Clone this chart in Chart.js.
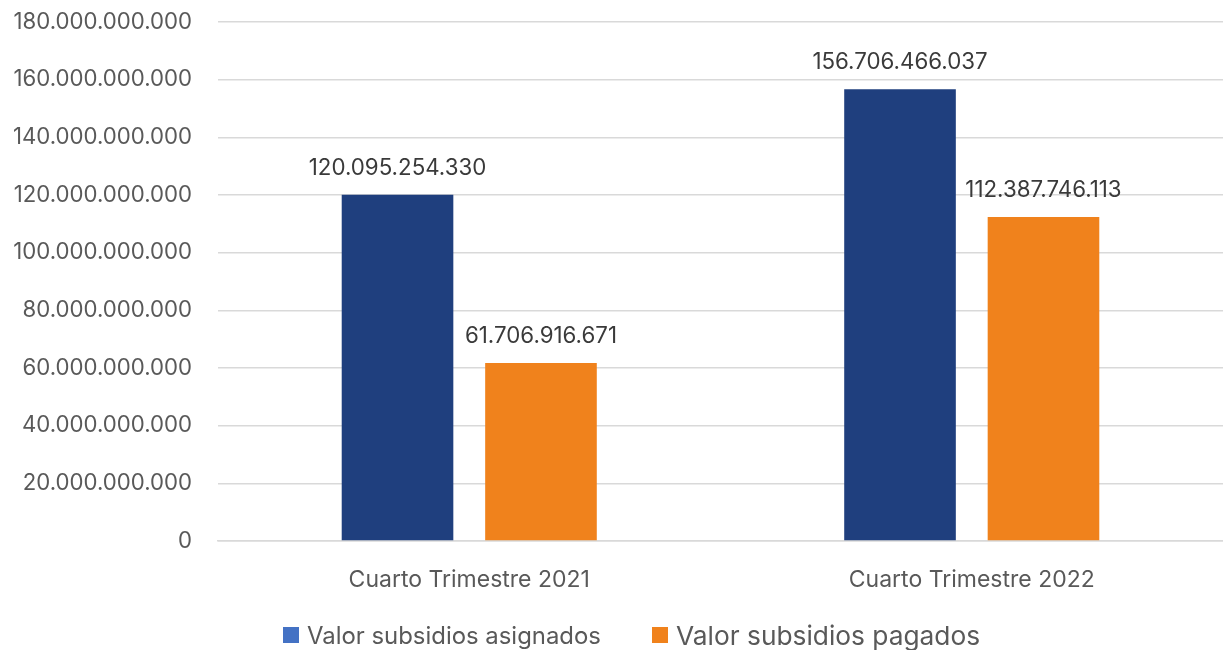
<!DOCTYPE html>
<html>
<head>
<meta charset="utf-8">
<script src="https://cdn.jsdelivr.net/npm/chart.js@4.4.0/dist/chart.umd.min.js"></script>
<style>
  html, body { margin: 0; padding: 0; background: #ffffff; }
  #wrap { position: relative; width: 1223px; height: 650px; }
  #legend { position: absolute; left: 0; top: 619px; width: 1223px; height: 32px; font-family: Inter, "Liberation Sans", sans-serif; color: #595959; }
  .item { position: absolute; top: 0; display: flex; align-items: center; height: 32px; white-space: nowrap; }
  .sw { display: inline-block; width: 16px; height: 16px; margin-right: 8px; }
</style>
</head>
<body>
<div id="wrap">
  <canvas id="c" width="1223" height="650"></canvas>
  <div id="legend"></div>
</div>
<script>
const categories = ["Cuarto Trimestre 2021", "Cuarto Trimestre 2022"];
const seriesNames = ["Valor subsidios asignados", "Valor subsidios pagados"];
const asignados = [120095254330, 156706466037];
const pagados = [61706916671, 112387746113];
const yTicks = [0, 20000000000, 40000000000, 60000000000, 80000000000, 100000000000, 120000000000, 140000000000, 160000000000, 180000000000];

const barColors = ["#1F3F7E", "#F0821C"];
const legendSwatch = ["#4472C4", "#F0821C"];
const FONT = "Inter, 'Liberation Sans', sans-serif";

function fmt(v) {
  return String(Math.round(v)).replace(/\B(?=(\d{3})+(?!\d))/g, ".");
}

const dataLabels = {
  id: "dataLabels",
  afterDatasetsDraw(chart) {
    const ctx = chart.ctx;
    ctx.save();
    ctx.font = "22.3px " + FONT;
    ctx.fillStyle = "#3A3A3A";
    ctx.textAlign = "center";
    ctx.textBaseline = "alphabetic";
    chart.data.datasets.forEach((ds, i) => {
      const meta = chart.getDatasetMeta(i);
      meta.data.forEach((bar, j) => {
        ctx.fillText(fmt(ds.data[j]), bar.x, bar.y - 20);
      });
    });
    ctx.restore();
  }
};

new Chart(document.getElementById("c"), {
  type: "bar",
  data: {
    labels: categories,
    datasets: [
      { label: seriesNames[0], data: asignados, backgroundColor: barColors[0], categoryPercentage: 0.571, barPercentage: 0.778 },
      { label: seriesNames[1], data: pagados, backgroundColor: barColors[1], categoryPercentage: 0.571, barPercentage: 0.778 }
    ]
  },
  options: {
    responsive: false,
    animation: false,
    layout: { padding: { top: 22, right: 0, left: 0, bottom: 0 } },
    plugins: { legend: { display: false }, tooltip: { enabled: false } },
    scales: {
      x: {
        grid: { display: false, drawTicks: false },
        border: { display: true, color: "#D9D9D9", width: 1.5 },
        ticks: { color: "#595959", font: { family: FONT, size: 23 }, padding: 25 },
        afterFit(s) { s.height = 109; s.paddingLeft = 0; s.paddingRight = 0; }
      },
      y: {
        min: 0,
        max: 180000000000,
        afterBuildTicks(s) { s.ticks = yTicks.map(v => ({ value: v })); },
        grid: { color: "#D9D9D9", lineWidth: 1.5, drawTicks: false },
        border: { display: false },
        ticks: { color: "#595959", font: { family: FONT, size: 22.2 }, padding: 26, callback: v => fmt(v) },
        afterFit(s) { s.width = 218; s.paddingTop = 0; s.paddingBottom = 0; }
      }
    }
  },
  plugins: [dataLabels]
});

const legend = document.getElementById("legend");
const positions = [283, 652];
const sizes = [23.9, 26.3];
seriesNames.forEach((n, i) => {
  const d = document.createElement("div");
  d.className = "item";
  d.style.left = positions[i] + "px";
  d.style.fontSize = sizes[i] + "px";
  const sw = document.createElement("span");
  sw.className = "sw";
  sw.style.background = legendSwatch[i];
  d.appendChild(sw);
  d.appendChild(document.createTextNode(n));
  legend.appendChild(d);
});
</script>
</body>
</html>
